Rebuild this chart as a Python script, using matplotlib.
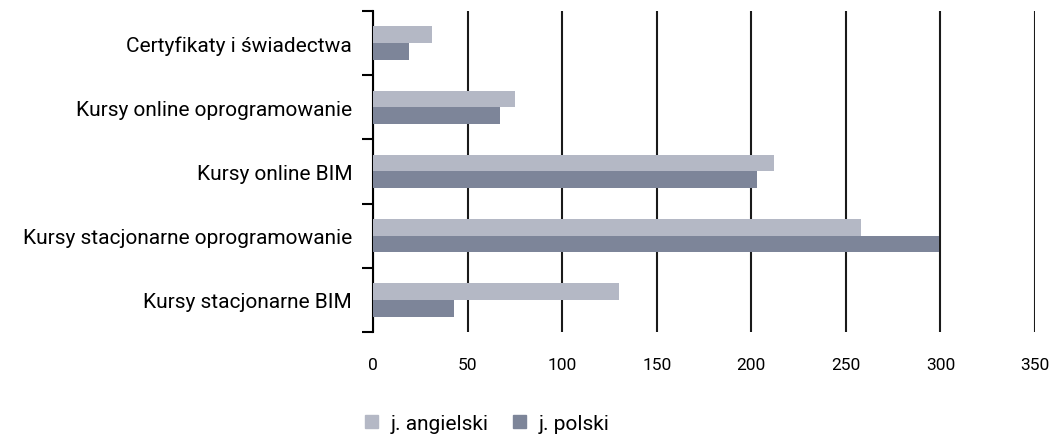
import matplotlib
matplotlib.use("Agg")
import matplotlib.pyplot as plt
from matplotlib.patches import Patch
import numpy as np

plt.rcParams['font.family'] = ['Roboto', 'DejaVu Sans']

categories = [
    "Kursy stacjonarne BIM",
    "Kursy stacjonarne oprogramowanie",
    "Kursy online BIM",
    "Kursy online oprogramowanie",
    "Certyfikaty i świadectwa",
]
angielski = [130, 258, 212, 75, 31]
polski = [43, 299, 203, 67, 19]
series_names = ["j. angielski", "j. polski"]
colors = ["#b4b8c5", "#7d8599"]
xticks = [0, 50, 100, 150, 200, 250, 300, 350]

fig = plt.figure(figsize=(10.55, 4.35), dpi=100)
ax = fig.add_axes([0.3536, 0.2345, 0.9810 - 0.3536, 0.9724 - 0.2345])

y = np.arange(len(categories))
h = 0.26
ax.barh(y + h / 2, angielski, height=h, color=colors[0], zorder=3)
ax.barh(y - h / 2, polski, height=h, color=colors[1], zorder=3)

ax.set_xlim(0, 350)
ax.set_ylim(-0.5, len(categories) - 0.5)
ax.set_xticks(xticks)
ax.set_xticklabels([str(v) for v in xticks], fontsize=12.5)
ax.tick_params(axis='x', length=0, pad=18)

ax.set_yticks(np.arange(-0.5, len(categories), 1.0))
ax.set_yticklabels([])
ax.set_yticks(y, minor=True)
ax.set_yticklabels(categories, minor=True, fontsize=15)
ax.tick_params(axis='y', which='major', length=8, width=1.5, color='black', direction='out')
ax.tick_params(axis='y', which='minor', length=0, pad=15)

for s in ['top', 'right', 'bottom']:
    ax.spines[s].set_visible(False)
ax.spines['left'].set_linewidth(1.5)
ax.spines['left'].set_color('black')

ax.grid(axis='x', color='#1a1a1a', linewidth=1.5, zorder=0)
ax.grid(axis='y', visible=False)

handles = [Patch(color=c, label=n) for c, n in zip(colors, series_names)]
fig.legend(handles=handles, loc='center', bbox_to_anchor=(0.462, 0.025),
           ncol=2, frameon=False, fontsize=15, handlelength=0.6, handleheight=0.6,
           handletextpad=0.6, columnspacing=1.2)

fig.savefig("out.png", dpi=100)
